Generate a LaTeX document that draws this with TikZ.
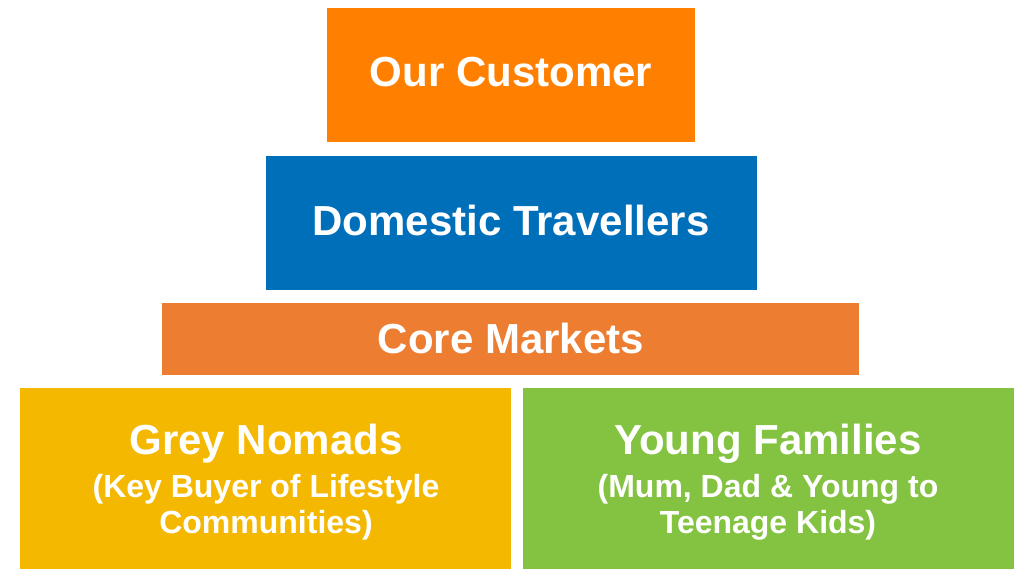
\documentclass[tikz,border=0pt]{standalone}
\usepackage{fontspec}
\setmainfont{Liberation Sans}
\definecolor{custorange}{HTML}{FF8000}
\definecolor{domblue}{HTML}{006FBA}
\definecolor{coreorange}{HTML}{ED7D31}
\definecolor{greygold}{HTML}{F5B800}
\definecolor{familygreen}{HTML}{84C341}
\begin{document}
\begin{tikzpicture}[x=1pt,y=-1pt,
  tier/.style={rectangle, draw=none, inner sep=0pt, outer sep=0pt, anchor=north west},
  headline/.style={text=white, inner sep=0pt, anchor=base,
    font=\bfseries\fontsize{42}{42}\selectfont},
  subline/.style={text=white, inner sep=0pt, anchor=base,
    font=\bfseries\fontsize{32}{36}\selectfont}]
\useasboundingbox (0,0) rectangle (1023,569);

% pyramid tiers
\node[tier, fill=custorange,  minimum width=368pt, minimum height=134pt] (cust)  at (327,8)   {};
\node[tier, fill=domblue,     minimum width=491pt, minimum height=134pt] (dom)   at (266,156) {};
\node[tier, fill=coreorange,  minimum width=697pt, minimum height=72pt]  (core)  at (162,303) {};
\node[tier, fill=greygold,    minimum width=491pt, minimum height=181pt] (grey)  at (20,388)  {};
\node[tier, fill=familygreen, minimum width=491pt, minimum height=181pt] (young) at (523,388) {};

% labels
\node[headline] (custtxt)  at (511,87)  {Our Customer};
\node[headline] (domtxt)   at (511,236) {Domestic Travellers};
\node[headline] (coretxt)  at (511,354) {Core Markets};
\node[headline] (greytxt)  at (266,454) {Grey Nomads};
\node[subline]  (greysubA) at (266,497) {(Key Buyer of Lifestyle};
\node[subline]  (greysubB) at (266,533) {Communities)};
\node[headline] (youngtxt) at (768,454) {Young Families};
\node[subline]  (youngsubA) at (768,497) {(Mum, Dad \& Young to};
\node[subline]  (youngsubB) at (768,533) {Teenage Kids)};
\end{tikzpicture}
\end{document}
